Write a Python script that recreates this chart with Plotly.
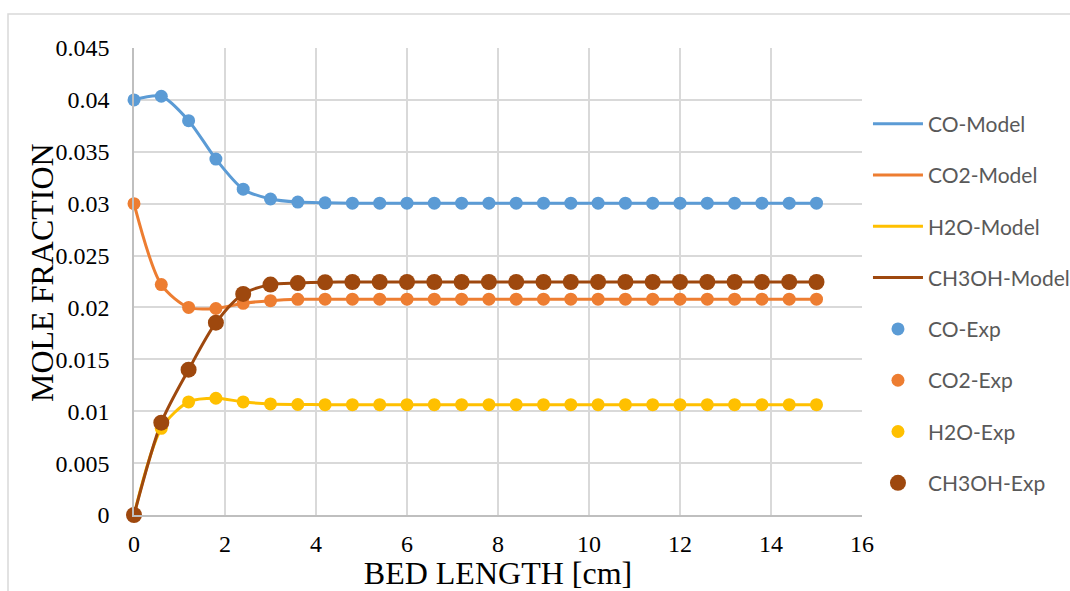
import plotly.graph_objects as go

bed_length = [0, 0.6, 1.2, 1.8, 2.4, 3.0, 3.6, 4.2, 4.8, 5.4, 6.0, 6.6, 7.2, 7.8, 8.4,
              9.0, 9.6, 10.2, 10.8, 11.4, 12.0, 12.6, 13.2, 13.8, 14.4, 15.0]
co = [0.0400, 0.04035, 0.0380, 0.0343, 0.0314, 0.03045, 0.03015, 0.03008, 0.03005, 0.03005,
      0.03005, 0.03005, 0.03005, 0.03005, 0.03005, 0.03005, 0.03005, 0.03005, 0.03005,
      0.03005, 0.03005, 0.03005, 0.03005, 0.03005, 0.03005, 0.03005]
co2 = [0.0300, 0.0222, 0.0200, 0.0199, 0.0204, 0.02065, 0.02078, 0.0208, 0.0208, 0.0208,
       0.0208, 0.0208, 0.0208, 0.0208, 0.0208, 0.0208, 0.0208, 0.0208, 0.0208, 0.0208,
       0.0208, 0.0208, 0.0208, 0.0208, 0.0208, 0.0208]
h2o = [0.0, 0.00835, 0.0109, 0.01125, 0.0109, 0.0107, 0.01065, 0.01063, 0.01063, 0.01063,
       0.01063, 0.01063, 0.01063, 0.01063, 0.01063, 0.01063, 0.01063, 0.01063, 0.01063,
       0.01063, 0.01063, 0.01063, 0.01063, 0.01063, 0.01063, 0.01063]
ch3oh = [0.0, 0.0089, 0.0140, 0.01853, 0.0213, 0.0222, 0.02235, 0.02243, 0.02245, 0.02245,
         0.02245, 0.02245, 0.02245, 0.02245, 0.02245, 0.02245, 0.02245, 0.02245, 0.02245,
         0.02245, 0.02245, 0.02245, 0.02245, 0.02245, 0.02245, 0.02245]

species = ["CO", "CO2", "H2O", "CH3OH"]
series = [co, co2, h2o, ch3oh]
colors = ["#5B9BD5", "#ED7D31", "#FFC000", "#9E480E"]
marker_sizes = [13, 13, 13, 16]

x_ticks = [0, 2, 4, 6, 8, 10, 12, 14, 16]
y_ticks = [0, 0.005, 0.01, 0.015, 0.02, 0.025, 0.03, 0.035, 0.04, 0.045]
y_ticklabels = ["0", "0.005", "0.01", "0.015", "0.02", "0.025", "0.03", "0.035", "0.04", "0.045"]
x_title = "BED LENGTH [cm]"
y_title = "MOLE FRACTION"

fig = go.Figure()
for i, (name, ys, c) in enumerate(zip(species, series, colors)):
    fig.add_trace(go.Scatter(
        x=bed_length, y=ys, mode="lines", name=f"{name}-Model",
        line=dict(color=c, width=3, shape="spline", smoothing=0.8),
        cliponaxis=False, legendgroup=f"m{i}", legendrank=i + 1))
for i, (name, ys, c, ms) in enumerate(zip(species, series, colors, marker_sizes)):
    fig.add_trace(go.Scatter(
        x=bed_length, y=ys, mode="markers", name=f"{name}-Exp",
        marker=dict(color=c, size=ms),
        cliponaxis=False, legendgroup=f"e{i}", legendrank=i + 5))

fig.update_layout(
    width=1070, height=591,
    margin=dict(l=134, r=208, t=48, b=76, autoexpand=False),
    paper_bgcolor="white", plot_bgcolor="white",
    showlegend=True,
    legend=dict(x=1.0082, y=0.881, xanchor="left", yanchor="top",
                font=dict(family="Lato", size=21, color="#595959"),
                tracegroupgap=21, traceorder="grouped", itemwidth=50),
    xaxis=dict(range=[0, 16], tickvals=x_ticks, showgrid=True, gridcolor="#D9D9D9",
               gridwidth=1.5, zeroline=False, showline=True, linecolor="#BFBFBF",
               linewidth=1.5, ticks="", ticklabelstandoff=6, automargin=False,
               tickfont=dict(family="Liberation Serif", size=24, color="black"),
               title=dict(text=x_title, standoff=8,
                          font=dict(family="Liberation Serif", size=32, color="black"))),
    yaxis=dict(range=[0, 0.045], tickvals=y_ticks, ticktext=y_ticklabels, showgrid=True,
               gridcolor="#D9D9D9", gridwidth=1.5, zeroline=False, showline=True,
               linecolor="#BFBFBF", linewidth=1.5, ticks="", ticklabelstandoff=18,
               automargin=False,
               tickfont=dict(family="Liberation Serif", size=24, color="black")),
    annotations=[dict(text=y_title, textangle=-90, showarrow=False,
                      xref="paper", yref="paper",
                      x=(42 - 134) / 728, y=(515 - 273) / 467,
                      xanchor="center", yanchor="middle",
                      font=dict(family="Liberation Serif", size=32, color="black"))],
    shapes=[dict(type="rect", xref="paper", yref="paper",
                 x0=(8 - 134) / 728, x1=(1075 - 134) / 728,
                 y0=(515 - 600) / 467, y1=(515 - 14) / 467,
                 line=dict(color="#D9D9D9", width=1.5), layer="below")],
)

fig.write_html("out.html")
